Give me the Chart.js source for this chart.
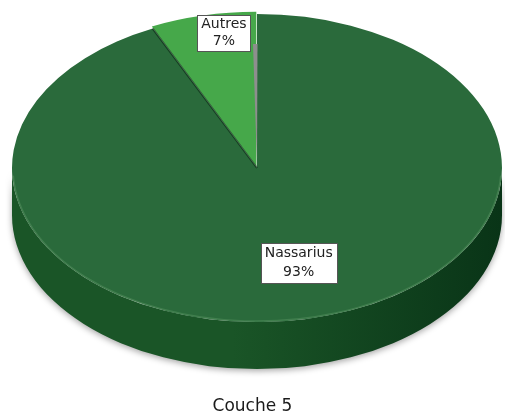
<!DOCTYPE html>
<html>
<head>
<meta charset="utf-8">
<script src="https://cdn.jsdelivr.net/npm/chart.js@4/dist/chart.umd.min.js"></script>
<style>
  html, body { margin: 0; padding: 0; background: #ffffff; }
  #wrap { width: 505px; height: 418px; position: relative; }
</style>
</head>
<body>
<div id="wrap"><canvas id="c"></canvas></div>
<script>
// ---- Data ----
const categories = ['Nassarius', 'Autres'];
const values = [93, 7];
const percentLabels = ['93%', '7%'];
const chartTitle = 'Couche 5';

// ---- Styles ----
const topColors = ['#2a6a3b', '#46a84a'];
const sideColorsLight = ['#1a5527', '#2f8a36'];
const sideColorsDark = ['#093417', '#1f6a26'];

const pseudo3d = {
  id: 'pseudo3d',
  beforeDatasetsDraw(chart, args, opts) {
    const ctx = chart.ctx;
    const meta = chart.getDatasetMeta(0);
    const base = meta.data[0];
    const ratio = opts.ratio, cx = opts.cx, cy = opts.cy, depth = opts.depth;
    ctx.save();
    // side walls (front half only)
    meta.data.forEach((arc, i) => {
      const p = arc.getProps(['x', 'y', 'startAngle', 'endAngle', 'outerRadius'], true);
      const off = arc.options.offset || 0;
      const mid = (p.startAngle + p.endAngle) / 2;
      const sx = cx + Math.cos(mid) * off;
      const sy = cy + Math.sin(mid) * off * ratio;
      const rx = p.outerRadius, ry = p.outerRadius * ratio;
      for (let k = -1; k <= 1; k++) {
        const s = Math.max(p.startAngle + 2 * Math.PI * k, 0);
        const e = Math.min(p.endAngle + 2 * Math.PI * k, Math.PI);
        if (e <= s) continue;
        const g = ctx.createLinearGradient(sx - rx, 0, sx + rx, 0);
        g.addColorStop(0, sideColorsLight[i]);
        g.addColorStop(0.45, sideColorsLight[i]);
        g.addColorStop(1, sideColorsDark[i]);
        ctx.save();
        ctx.shadowColor = 'rgba(0,0,0,0.35)';
        ctx.shadowBlur = 6;
        ctx.shadowOffsetY = 2;
        ctx.beginPath();
        ctx.ellipse(sx, sy, rx, ry, 0, s, e, false);
        ctx.ellipse(sx, sy + depth, rx, ry, 0, e, s, true);
        ctx.closePath();
        ctx.fillStyle = g;
        ctx.fill();
        ctx.restore();
      }
    });
    // squash the top face
    ctx.translate(cx, cy);
    ctx.scale(1, ratio);
    ctx.translate(-base.x, -base.y);
  },
  afterDatasetsDraw(chart, args, opts) {
    const ctx = chart.ctx;
    ctx.restore();
    const meta = chart.getDatasetMeta(0);
    const main = meta.data[0];
    const r = main.outerRadius;
    const ry = r * opts.ratio;
    ctx.save();
    // rim highlight on the front edge of the top face
    ctx.beginPath();
    ctx.ellipse(opts.cx, opts.cy, r - 1, ry - 1, 0, 0.05, Math.PI - 0.05);
    ctx.strokeStyle = 'rgba(90,150,100,0.45)';
    ctx.lineWidth = 1.5;
    ctx.stroke();
    // shadow along the cut where the exploded slice left the main slice
    const endA = main.endAngle;
    ctx.beginPath();
    ctx.moveTo(opts.cx, opts.cy);
    ctx.lineTo(opts.cx + Math.cos(endA) * r, opts.cy + Math.sin(endA) * ry);
    ctx.strokeStyle = 'rgba(10,45,20,0.7)';
    ctx.lineWidth = 2;
    ctx.stroke();
    // grey cut wall of the main slice at its start edge
    const stA = main.startAngle;
    const ex = opts.cx + Math.cos(stA) * r;
    const ey = opts.cy + Math.sin(stA) * ry;
    ctx.beginPath();
    ctx.moveTo(ex, opts.cy - 2);
    ctx.lineTo(ex + 0.5, ey + 30);
    ctx.lineTo(ex - 4, ey + 30);
    ctx.closePath();
    ctx.fillStyle = '#8e8e8e';
    ctx.fill();
    ctx.restore();
  },
  afterDraw(chart, args, opts) {
    const ctx = chart.ctx;
    const meta = chart.getDatasetMeta(0);
    ctx.save();
    ctx.font = '14px "DejaVu Sans", sans-serif';
    ctx.textAlign = 'center';
    ctx.textBaseline = 'middle';
    meta.data.forEach((arc, i) => {
      const mid = (arc.startAngle + arc.endAngle) / 2;
      const f = opts.labelRadius[i];
      const r = arc.outerRadius;
      const x = opts.cx + Math.cos(mid) * r * f + opts.labelDx[i];
      const y = opts.cy + Math.sin(mid) * r * f * opts.ratio;
      const lines = [categories[i], percentLabels[i]];
      const lh = opts.lineHeight[i];
      const w = Math.max(...lines.map(t => ctx.measureText(t).width)) + 8;
      const h = lh * lines.length + 2;
      ctx.fillStyle = '#ffffff';
      ctx.fillRect(Math.round(x - w / 2) + 0.5, Math.round(y - h / 2) + 0.5, Math.round(w), Math.round(h));
      ctx.strokeStyle = '#555555';
      ctx.lineWidth = 1;
      ctx.strokeRect(Math.round(x - w / 2) + 0.5, Math.round(y - h / 2) + 0.5, Math.round(w), Math.round(h));
      ctx.fillStyle = '#222222';
      lines.forEach((t, j) => {
        ctx.fillText(t, x, y - h / 2 + 1 + lh * (j + 0.5) + 0.5);
      });
    });
    ctx.restore();
  }
};

new Chart(document.getElementById('c'), {
  type: 'pie',
  data: {
    labels: categories,
    datasets: [{
      data: values,
      backgroundColor: topColors,
      borderWidth: 0,
      offset: [0, 9],
      clip: false
    }]
  },
  options: {
    responsive: true,
    maintainAspectRatio: false,
    animation: false,
    events: [],
    radius: 245,
    rotation: 0,
    layout: { padding: 0 },
    plugins: {
      legend: { display: false },
      tooltip: { enabled: false },
      title: {
        display: true,
        text: chartTitle,
        position: 'bottom',
        color: '#1a1a1a',
        font: { family: '"DejaVu Sans", sans-serif', size: 17, weight: 'normal' },
        padding: { top: 8, bottom: 1 }
      },
      pseudo3d: {
        ratio: 0.629,
        cx: 257,
        cy: 168,
        depth: 47,
        labelRadius: [0.63, 0.9],
        labelDx: [8, 15],
        lineHeight: [19, 17]
      }
    }
  },
  plugins: [pseudo3d]
});
</script>
</body>
</html>
